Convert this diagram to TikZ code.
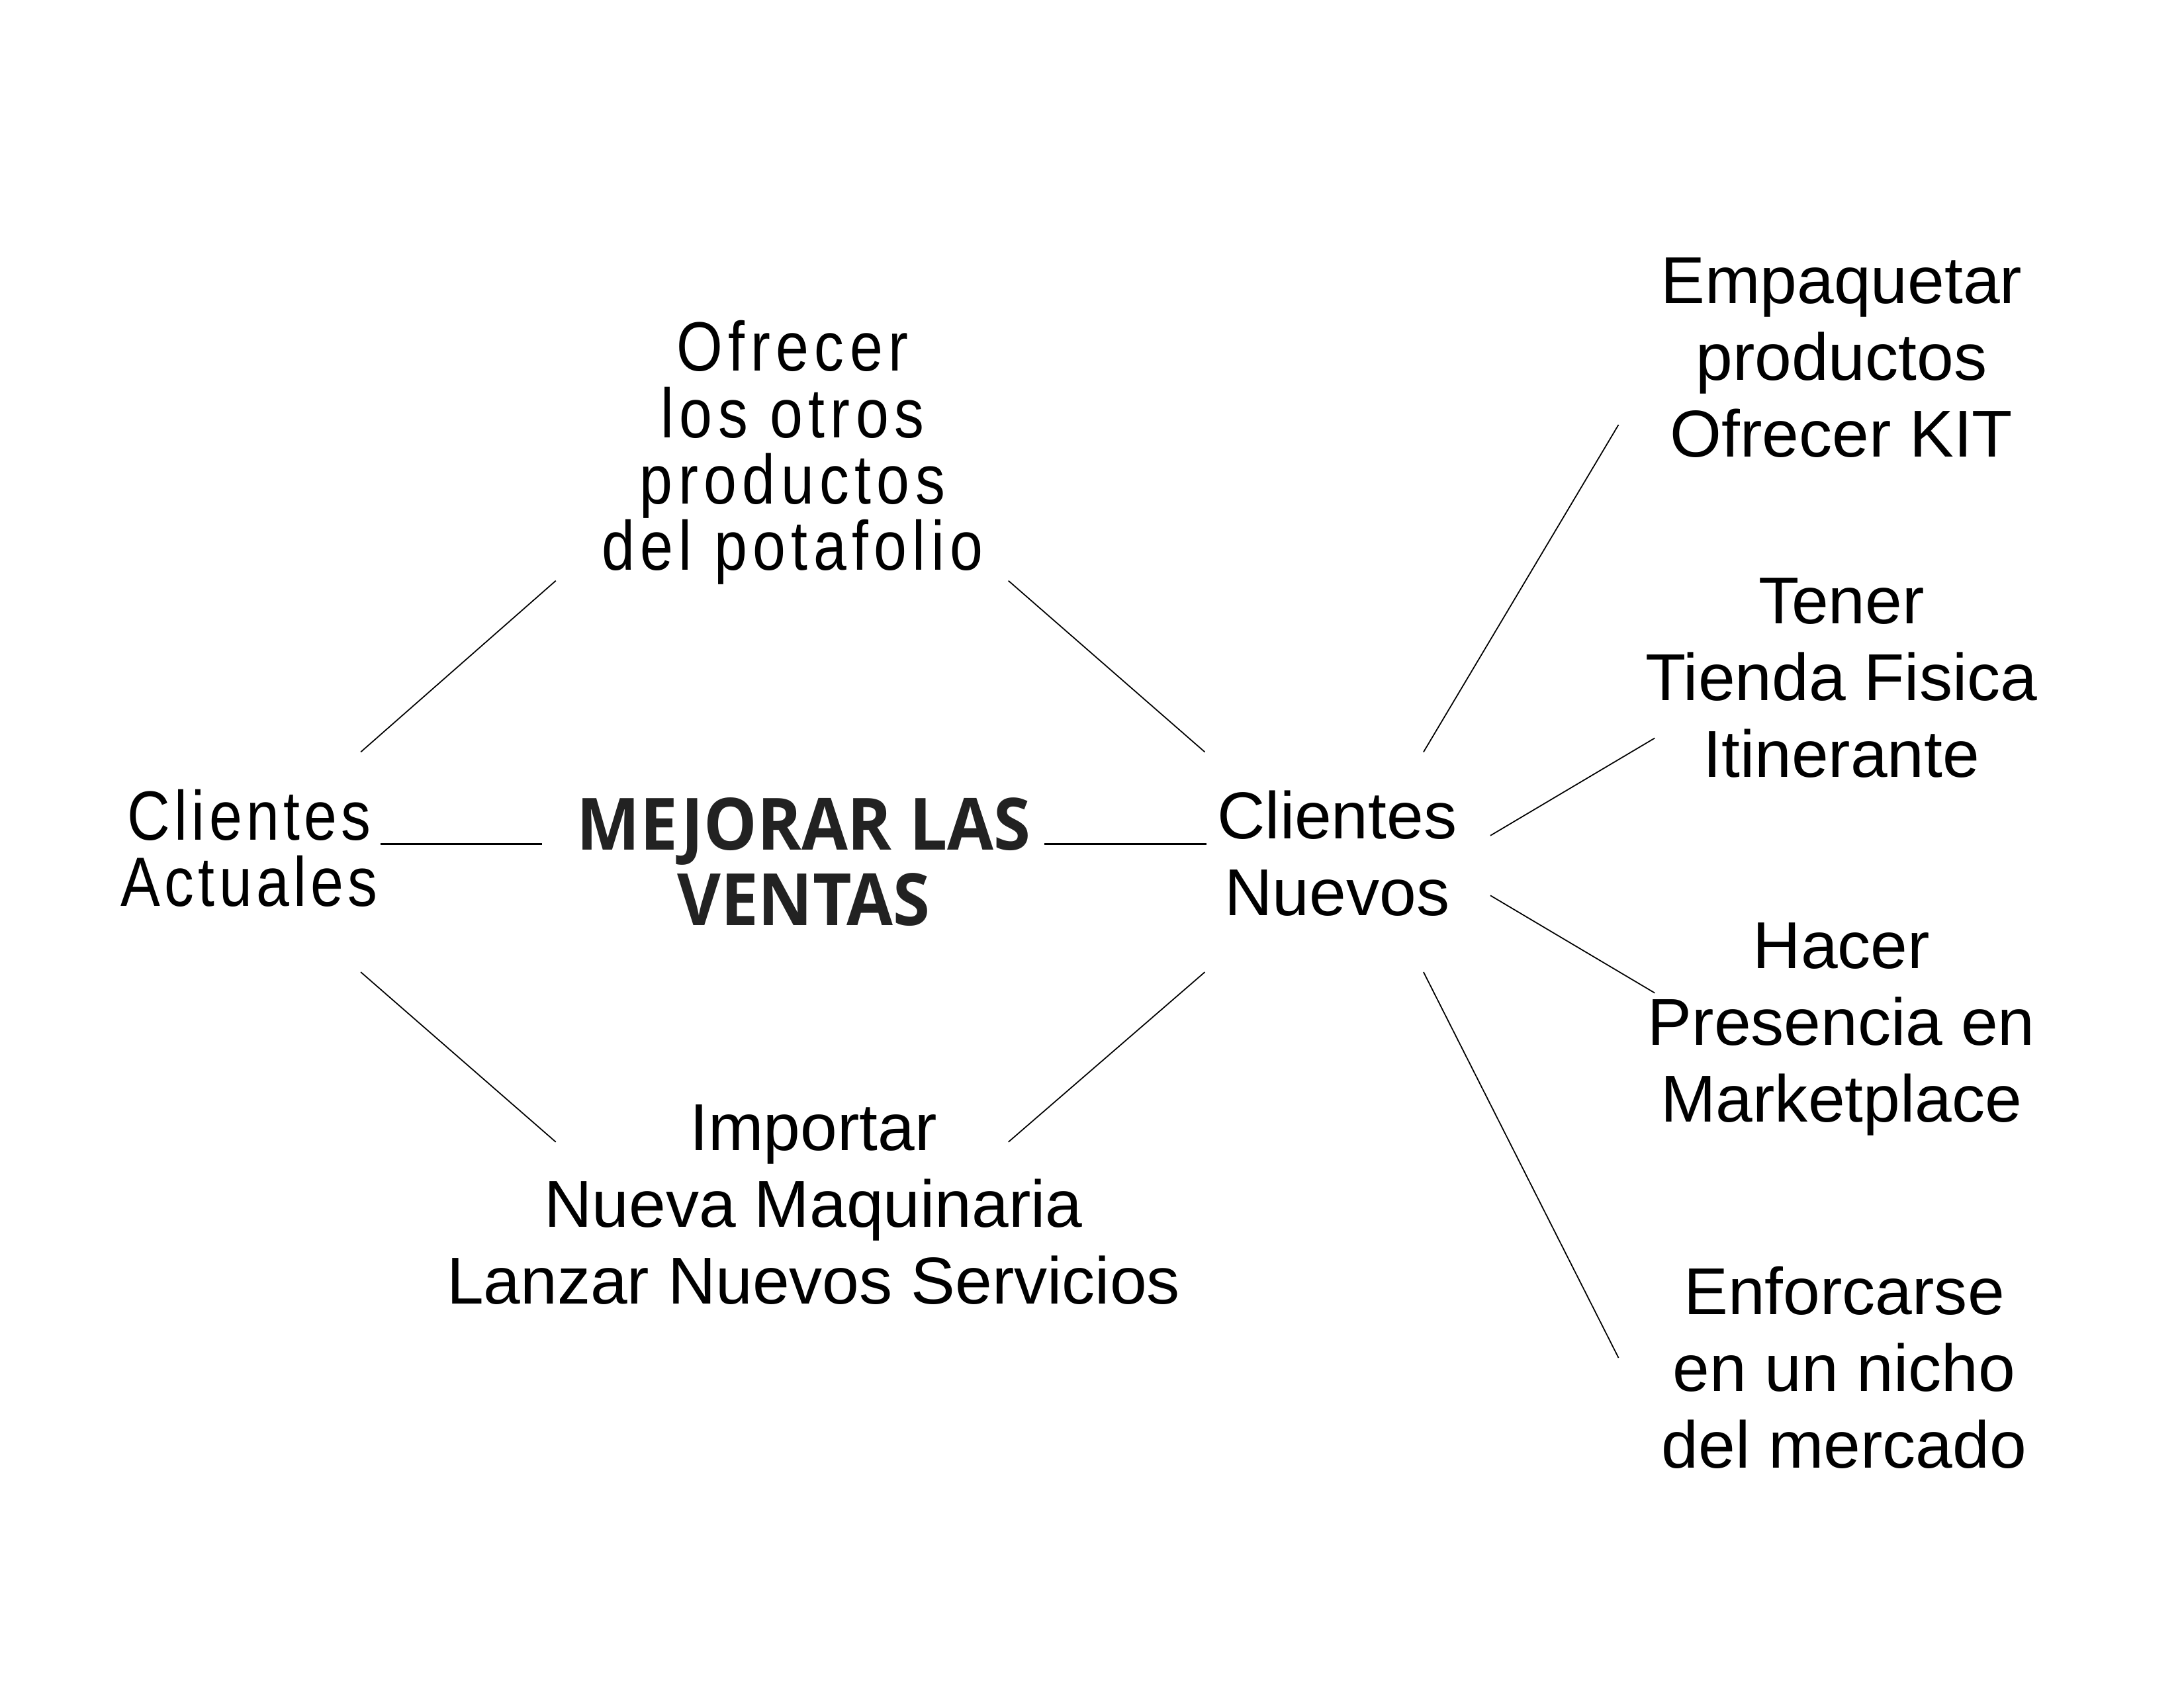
\documentclass[tikz,border=0pt]{standalone}
\usepackage{fontspec}
\setmainfont{Liberation Sans}
\newfontfamily\thinf{Liberation Sans}[FakeStretch=0.85, LetterSpace=8]
\newfontfamily\thinca{Liberation Sans}[FakeStretch=0.85, LetterSpace=6]
\newfontfamily\titlef{Open Sans}[FakeStretch=0.93]
\definecolor{titlegray}{HTML}{222222}
\begin{document}
\begin{tikzpicture}[x=0.0210459cm, y=-0.0210459cm,
  every node/.style={inner sep=0pt, align=center},
  thinlbl/.style={font=\thinf\fontsize{30}{28.5}\selectfont},
  calbl/.style={font=\thinca\fontsize{30}{28.5}\selectfont},
  reglbl/.style={font=\fontsize{28.5}{33}\selectfont},
  titlelbl/.style={font=\titlef\bfseries\fontsize{31}{32.5}\selectfont, text=titlegray},
  conn/.style={line width=0.5pt, black},
  hconn/.style={line width=0.7pt, black}]
\useasboundingbox (0,0) rectangle (1568,1212);

\node[calbl] (ca) at (179,609) {Clientes\\Actuales};
\node[thinlbl] (of) at (569,325) {Ofrecer\\los otros\\productos\\del potafolio};
\node[titlelbl] (mv) at (577,619) {MEJORAR LAS\\VENTAS};
\node[reglbl] (cn) at (960,613) {Clientes\\Nuevos};
\node[reglbl] (im) at (584,865) {Importar\\Nueva Maquinaria\\Lanzar Nuevos Servicios};
\node[reglbl] (em) at (1322,257) {Empaquetar\\productos\\Ofrecer KIT};
\node[reglbl] (te) at (1322,487) {Tener\\Tienda Fisica\\Itinerante};
\node[reglbl] (ha) at (1322,739) {Hacer\\Presencia en\\Marketplace};
\node[reglbl] (en) at (1324,982) {Enforcarse\\en un nicho\\del mercado};

% connector ends
\coordinate (ca-mv) at (273,606);  \coordinate (mv-ca) at (389,606);
\coordinate (mv-cn) at (750,606);  \coordinate (cn-mv) at (866,606);
\coordinate (ca-of) at (259,540);  \coordinate (of-ca) at (399,417);
\coordinate (of-cn) at (724,417);  \coordinate (cn-of) at (865,540);
\coordinate (ca-im) at (259,698);  \coordinate (im-ca) at (399,820);
\coordinate (im-cn) at (724,820);  \coordinate (cn-im) at (865,698);
\coordinate (cn-em) at (1022,540); \coordinate (em-cn) at (1162,305);
\coordinate (cn-te) at (1070,600); \coordinate (te-cn) at (1188,530);
\coordinate (cn-ha) at (1070,643); \coordinate (ha-cn) at (1188,713);
\coordinate (cn-en) at (1022,698); \coordinate (en-cn) at (1162,975);

\draw[hconn] (ca-mv) -- (mv-ca);
\draw[hconn] (mv-cn) -- (cn-mv);
\draw[conn] (ca-of) -- (of-ca);
\draw[conn] (of-cn) -- (cn-of);
\draw[conn] (ca-im) -- (im-ca);
\draw[conn] (im-cn) -- (cn-im);
\draw[conn] (cn-em) -- (em-cn);
\draw[conn] (cn-te) -- (te-cn);
\draw[conn] (cn-ha) -- (ha-cn);
\draw[conn] (cn-en) -- (en-cn);
\end{tikzpicture}
\end{document}
